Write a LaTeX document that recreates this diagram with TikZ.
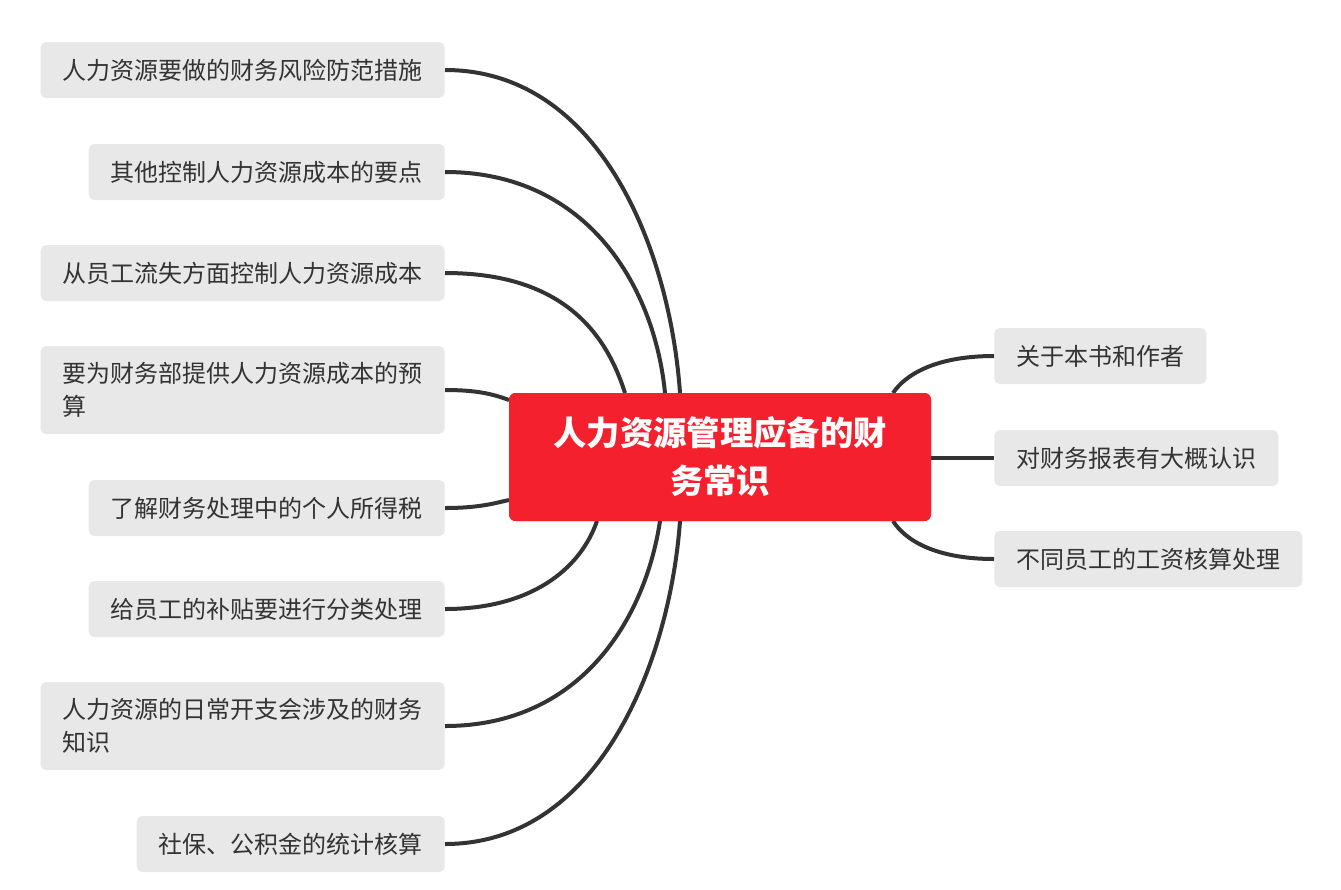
\documentclass[tikz,border=0pt]{standalone}
\usepackage{fontspec}
\setmainfont{Noto Sans CJK SC}
\begin{document}
\begin{tikzpicture}[x=0.75pt,y=-0.75pt,
  leaf/.style={fill=boxgray,rounded corners=4pt,anchor=east,inner xsep=16.5pt,minimum height=42pt,align=left,text=textgray,font=\fontsize{18}{25}\selectfont},
  link/.style={draw=linegray,line width=3pt}]
\definecolor{boxgray}{HTML}{E8E8E8}
\definecolor{textgray}{HTML}{333333}
\definecolor{linegray}{HTML}{333333}
\definecolor{cred}{HTML}{F5202E}
\useasboundingbox (0,0) rectangle (1341,889);
\node[fill=cred,rounded corners=5pt,minimum width=316.5pt,minimum height=96pt,align=center,text=white,font=\fontsize{25}{36}\selectfont\bfseries] (c) at (720,457) {人力资源管理应备的财\\务常识};
\node[leaf] (l1) at (445,70) {人力资源要做的财务风险防范措施};
\node[leaf] (l2) at (445,172) {其他控制人力资源成本的要点};
\node[leaf] (l3) at (445,273) {从员工流失方面控制人力资源成本};
\node[leaf,minimum height=66pt] (l4) at (445,390) {要为财务部提供人力资源成本的预\\算};
\node[leaf] (l5) at (445,508) {了解财务处理中的个人所得税};
\node[leaf] (l6) at (445,609) {给员工的补贴要进行分类处理};
\node[leaf,minimum height=66pt] (l7) at (445,726) {人力资源的日常开支会涉及的财务\\知识};
\node[leaf] (l8) at (445,844) {社保、公积金的统计核算};
\node[leaf,anchor=west] (r1) at (994,356) {关于本书和作者};
\node[leaf,anchor=west] (r2) at (994,458) {对财务报表有大概认识};
\node[leaf,anchor=west] (r3) at (994,559) {不同员工的工资核算处理};
\begin{scope}[on background layer/.style={}]
\draw[link] (l1.east) .. controls (600,70) and (670,250) .. (680,393);
\draw[link] (l2.east) .. controls (590,172) and (655,290) .. (665,393);
\draw[link] (l3.east) .. controls (560,273) and (605,330) .. (625,393);
\draw[link] (l4.east) .. controls (480,390) and (495,395) .. (509,400);
\draw[link] (l5.east) .. controls (480,508) and (495,503) .. (509,500);
\draw[link] (l6.east) .. controls (530,609) and (580,570) .. (597,521);
\draw[link] (l7.east) .. controls (580,726) and (645,620) .. (660,521);
\draw[link] (l8.east) .. controls (600,844) and (670,660) .. (680,521);
\draw[link] (r1.west) .. controls (935,356) and (905,375) .. (893,393);
\draw[link] (r2.west) -- (931,458);
\draw[link] (r3.west) .. controls (935,559) and (905,540) .. (893,521);
\end{scope}
\node[fill=cred,rounded corners=5pt,minimum width=316.5pt,minimum height=96pt,align=center,text=white,font=\fontsize{25}{36}\selectfont\bfseries] at (720,457) {人力资源管理应备的财\\务常识};
\end{tikzpicture}
\end{document}
